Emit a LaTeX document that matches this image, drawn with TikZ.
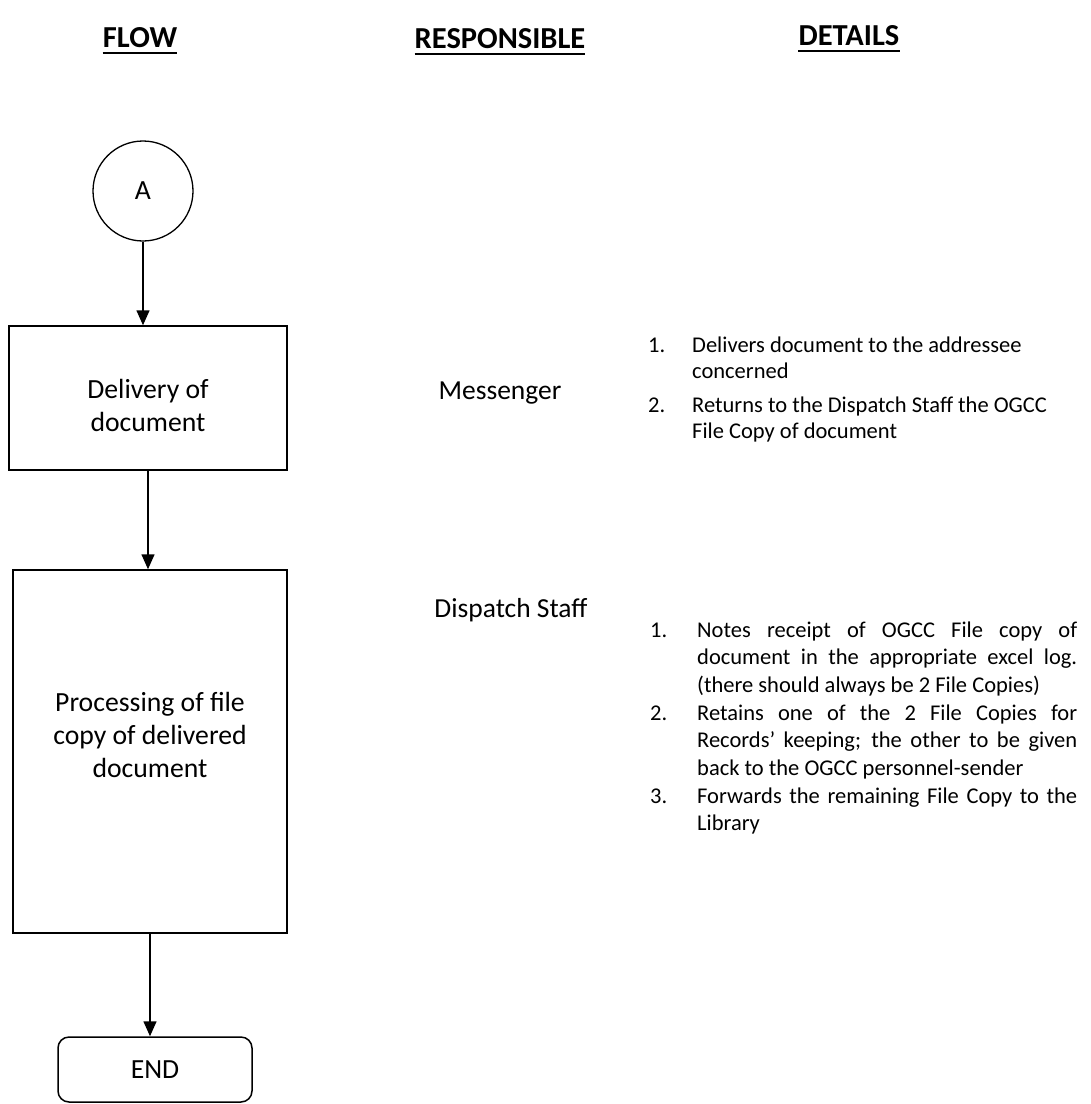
\documentclass[tikz,border=0pt]{standalone}
\usepackage{fontspec}
\setmainfont{Carlito}
\usetikzlibrary{arrows.meta,calc}
\begin{document}
\begin{tikzpicture}[x=1pt,y=-1pt,
  shapebox/.style={draw, line width=1.5pt, inner sep=0pt, align=center,
    font=\fontsize{27.7}{33}\selectfont},
  flowarrow/.style={line width=1.5pt, -{Triangle[length=15pt,width=13pt]}},
  hdr/.style={inner sep=0pt, anchor=base, font=\fontsize{30.5}{34}\selectfont\bfseries},
  uline/.style={line width=2.6pt},
  resp/.style={inner sep=0pt, anchor=base, font=\fontsize{27.5}{30}\selectfont},
  num/.style={inner sep=0pt, anchor=base west, font=\fontsize{22.5}{26}\selectfont},
  itemtxt/.style={inner sep=0pt, anchor=base west, align=flush left, text width=385pt,
    font=\fontsize{22.5}{26}\selectfont},
  itemjust/.style={inner sep=0pt, anchor=base west, align=justify, text width=380pt,
    font=\fontsize{22.5}{27.5}\selectfont}
]
\useasboundingbox (0,0) rectangle (1091,1104);

% headers
\node[hdr] (hflow) at (140,47) {FLOW};
\node[hdr] (hresp) at (500,48) {RESPONSIBLE};
\node[hdr] (hdet) at (849,45) {DETAILS};
\draw[uline] ($(hflow.base west)+(0,6)$) -- ($(hflow.base east)+(0,6)$);
\draw[uline] ($(hresp.base west)+(0,6)$) -- ($(hresp.base east)+(0,6)$);
\draw[uline] ($(hdet.base west)+(0,6)$) -- ($(hdet.base east)+(0,6)$);

% flow
\node[draw, circle, line width=1.3pt, minimum size=100pt, inner sep=0pt,
  font=\fontsize{27.7}{33}\selectfont] (A) at (143,191) {A};
\node[shapebox, minimum width=278pt, minimum height=144pt] (deliv) at (148,398)
  {\rule{0pt}{35pt}Delivery of\\document};
\node[shapebox, minimum width=274pt, minimum height=363pt] (proc) at (150,751.5)
  {Processing of file\\copy of delivered\\document\\\mbox{}};
\node[shapebox, rounded corners=11pt, minimum width=194pt, minimum height=65pt] (endn) at (155,1069.5)
  {END};

\draw[flowarrow] (A.south) -- (A.south |- deliv.north);
\draw[flowarrow] (deliv.south) -- (deliv.south |- proc.north);
\draw[flowarrow] (proc.south) -- (proc.south |- endn.north);

% responsible
\node[resp] (rmess) at (500,399) {Messenger};
\node[resp] (rdisp) at (511,617) {Dispatch Staff};

% details, step 1
\node[num] (n11) at (648,352) {1.};
\node[itemtxt] (t11) at (692,352) {Delivers document to the addressee\\concerned};
\node[num] (n12) at (648,412) {2.};
\node[itemtxt] (t12) at (692,412) {Returns to the Dispatch Staff the OGCC\\File Copy of document};

% details, step 2
\node[num] (n21) at (650,637) {1.};
\node[itemjust] (t21) at (697,637) {Notes receipt of OGCC File copy of\linebreak document in the appropriate excel log.\linebreak (there should always be 2 File Copies)};
\node[num] (n22) at (650,720) {2.};
\node[itemjust] (t22) at (697,720) {Retains one of the 2 File Copies for\linebreak Records’ keeping; the other to be given\linebreak back to the OGCC personnel-sender};
\node[num] (n23) at (650,803) {3.};
\node[itemjust] (t23) at (697,803) {Forwards the remaining File Copy to the\linebreak Library};
\end{tikzpicture}
\end{document}
